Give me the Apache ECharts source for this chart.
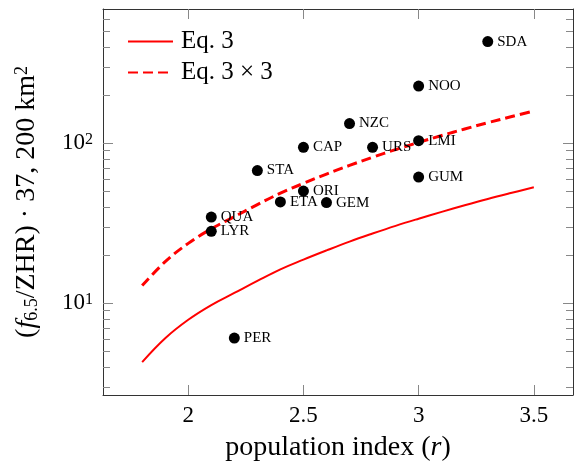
<!DOCTYPE html>
<html>
<head>
<meta charset="utf-8">
<script src="https://cdn.jsdelivr.net/npm/echarts@6/dist/echarts.min.js"></script>
<style>
  html, body { margin: 0; padding: 0; background: #fff; }
  #chart { width: 575px; height: 467px; }
</style>
</head>
<body>
<div id="chart"></div>
<script>
// curve samples (population index r) and values
const curveR = [1.8, 1.9, 2.0, 2.1, 2.2, 2.3, 2.4, 2.5, 2.6, 2.7, 2.8, 2.9, 3.0, 3.1, 3.2, 3.3, 3.4, 3.5]
const eq3 = [4.29, 6.05, 7.89, 9.75, 11.6, 13.8, 16.3, 18.75, 21.4, 24.3, 27.3, 30.5, 33.8, 37.3, 41.0, 44.9, 48.9, 53.1]
const eq3x3 = [12.9, 18.2, 23.7, 29.2, 34.8, 41.4, 48.8, 56.2, 64.3, 72.8, 81.9, 91.4, 101.4, 112, 123, 134.6, 146.6, 159.3]

// meteor showers
const showerNames = ['SDA', 'NOO', 'NZC', 'CAP', 'URS', 'LMI', 'STA', 'GUM', 'ORI', 'ETA', 'GEM', 'QUA', 'LYR', 'PER']
const showerR = [3.3, 3.0, 2.7, 2.5, 2.8, 3.0, 2.3, 3.0, 2.5, 2.4, 2.6, 2.1, 2.1, 2.2]
const showerVal = [433, 228, 133, 94.4, 94.4, 104, 67.6, 61.5, 50.3, 43, 42.6, 34.6, 28.2, 6.06]

// ticks
const xTicks = [2, 2.5, 3, 3.5]
const yMajor = [10, 100]
const yMinor = [3, 4, 5, 6, 7, 8, 9, 20, 30, 40, 50, 60, 70, 80, 90, 200, 300, 400, 500, 600]

const font = 'Liberation Serif'
const red = '#ff0000'

const myChart = echarts.init(document.querySelector('#chart'))

const frameLine = { show: true, onZero: false, lineStyle: { color: '#333', width: 1 } }
const xBase = {
    type: 'value',
    min: 1.63,
    max: 3.67,
    axisLine: frameLine,
    splitLine: { show: false },
    axisTick: { show: true, inside: true, length: 10, customValues: xTicks, lineStyle: { color: '#888' } },
}
const yBase = {
    type: 'log',
    logBase: 10,
    min: 2.67,
    max: 692,
    axisLine: frameLine,
    splitLine: { show: false },
    minorTick: { show: false },
}

const titleRich = {
    sup: { fontSize: 18, fontFamily: font, color: '#000', verticalAlign: 'top', lineHeight: 16 },
    sub: { fontSize: 18, fontFamily: font, color: '#000', verticalAlign: 'bottom', lineHeight: 16 },
    i: { fontSize: 28, fontFamily: font, fontStyle: 'italic', color: '#000' },
}
const tickRich = {
    sup: { fontSize: 16, fontFamily: font, color: '#000', verticalAlign: 'top', lineHeight: 14 },
}

const option = {
    animation: false,
    grid: { left: 103, right: 2, top: 9, bottom: 69 },
    legend: {
        orient: 'vertical',
        left: 127,
        top: 29,
        padding: 0,
        itemWidth: 45,
        itemHeight: 14,
        itemGap: 6,
        itemStyle: { color: 'transparent', borderColor: 'transparent', borderWidth: 0 },
        textStyle: { fontFamily: font, fontSize: 25, color: '#000', lineHeight: 24, padding: [0, 0, 0, 3] },
        data: ['Eq. 3', 'Eq. 3 \u00d7 3'],
    },
    xAxis: [
        {
            ...xBase,
            position: 'bottom',
            name: 'population index ({i|r})',
            nameLocation: 'middle',
            nameGap: 39,
            nameTextStyle: { fontFamily: font, fontSize: 28, color: '#000', rich: titleRich },
            axisLabel: { customValues: xTicks, fontFamily: font, fontSize: 23, color: '#000', margin: 9 },
        },
        {
            ...xBase,
            position: 'top',
            axisLabel: { show: false },
        },
    ],
    yAxis: [
        {
            ...yBase,
            position: 'left',
            name: '({i|f}{sub|6.5}/ZHR) \u00b7 37, 200 km{sup|2}',
            nameLocation: 'middle',
            nameRotate: 90,
            nameGap: 62,
            nameTextStyle: { fontFamily: font, fontSize: 28, color: '#000', rich: titleRich },
            axisTick: { show: true, inside: true, length: 10, customValues: yMajor, lineStyle: { color: '#888' } },
            axisLabel: {
                customValues: yMajor,
                fontFamily: font,
                fontSize: 23,
                color: '#000',
                margin: 10,
                formatter: v => '10{sup|' + Math.round(Math.log10(v)) + '}',
                rich: tickRich,
            },
        },
        {
            ...yBase,
            position: 'left',
            axisLine: { show: false },
            axisTick: { show: true, inside: true, length: 7, customValues: yMinor, lineStyle: { color: '#888' } },
            axisLabel: { show: false },
        },
        {
            ...yBase,
            position: 'right',
            axisTick: { show: true, inside: true, length: 10, customValues: yMajor, lineStyle: { color: '#888' } },
            axisLabel: { show: false },
        },
        {
            ...yBase,
            position: 'right',
            axisLine: { show: false },
            axisTick: { show: true, inside: true, length: 7, customValues: yMinor, lineStyle: { color: '#888' } },
            axisLabel: { show: false },
        },
    ],
    series: [
        {
            name: 'Eq. 3',
            type: 'line',
            data: curveR.map((r, i) => [r, eq3[i]]),
            symbol: 'none',
            smooth: 0.4,
            lineStyle: { color: red, width: 2 },
            itemStyle: { color: red },
        },
        {
            name: 'Eq. 3 \u00d7 3',
            type: 'line',
            data: curveR.map((r, i) => [r, eq3x3[i]]),
            symbol: 'none',
            smooth: 0.4,
            lineStyle: { color: red, width: 3, type: [10, 5] },
            itemStyle: { color: red },
        },
        {
            name: 'showers',
            type: 'scatter',
            data: showerNames.map((n, i) => ({ name: n, value: [showerR[i], showerVal[i]] })),
            symbolSize: 11,
            itemStyle: { color: '#000', opacity: 1 },
            label: {
                show: true,
                position: 'right',
                distance: 4,
                formatter: p => p.name,
                fontFamily: font,
                fontSize: 15,
                color: '#000',
            },
            z: 5,
        },
    ],
}
myChart.setOption(option)
</script>
</body>
</html>
